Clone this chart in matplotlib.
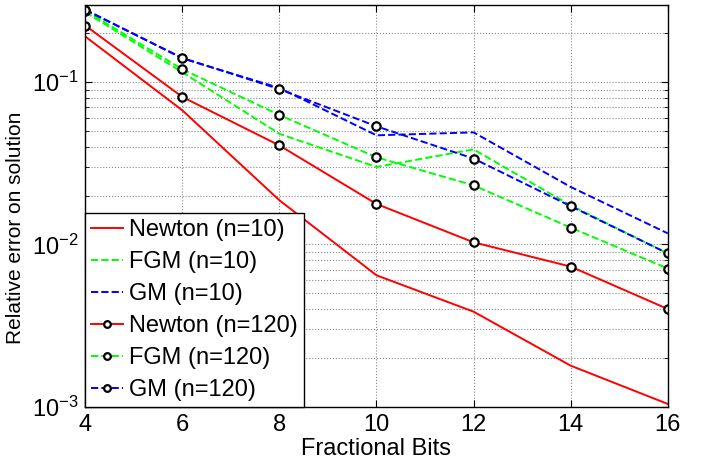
import matplotlib
matplotlib.use("Agg")
import matplotlib.pyplot as plt
from matplotlib.ticker import LogLocator, NullFormatter

plt.rcParams['font.family'] = ['Liberation Sans', 'DejaVu Sans']
plt.rcParams['mathtext.fontset'] = 'custom'
plt.rcParams['mathtext.rm'] = 'Liberation Sans'

bits = [4, 6, 8, 10, 12, 14, 16]
newton_10 = [0.191, 0.067, 0.0187, 0.00645, 0.00385, 0.00179, 0.00104]
fgm_10 = [0.27, 0.115, 0.048, 0.030, 0.0385, 0.0174, 0.0088]
gm_10 = [0.28, 0.14, 0.092, 0.047, 0.049, 0.0226, 0.0117]
newton_120 = [0.223, 0.081, 0.0407, 0.01775, 0.0103, 0.0073, 0.0040]
fgm_120 = [0.276, 0.120, 0.0627, 0.0344, 0.0231, 0.0127, 0.0071]
gm_120 = [0.278, 0.141, 0.0905, 0.0534, 0.0338, 0.0172, 0.0088]

fig = plt.figure(figsize=(7.03, 4.59), dpi=100)
ax = fig.add_axes([0.1213, 0.114, 0.8285, 0.8758])

red, green, blue = '#ff0000', '#00ff00', '#0000ff'
lw = 1.4
ax.plot(bits, newton_10, '-', color=red, lw=lw, label='Newton (n=10)')
ax.plot(bits, fgm_10, '--', color=green, lw=lw, label='FGM (n=10)')
ax.plot(bits, gm_10, '--', color=blue, lw=lw, label='GM (n=10)')
mk = dict(marker='o', ms=6, mfc='white', mec='black', mew=1.6)
ax.plot(bits, newton_120, '-', color=red, lw=lw, label='Newton (n=120)', **mk)
ax.plot(bits, fgm_120, '--', color=green, lw=lw, label='FGM (n=120)', **mk)
ax.plot(bits, gm_120, '--', color=blue, lw=lw, label='GM (n=120)', **mk)

ax.set_yscale('log')
ax.set_xlim(4, 16)
ax.set_ylim(1e-3, 0.3)
ax.set_xticks([4, 6, 8, 10, 12, 14, 16])
ax.yaxis.set_major_locator(LogLocator(base=10, numticks=10))
ax.yaxis.set_minor_locator(LogLocator(base=10, subs=range(2, 10), numticks=20))
ax.yaxis.set_minor_formatter(NullFormatter())
ax.grid(True, which='major', linestyle=':', color='#888888', lw=0.8)
ax.grid(True, which='minor', axis='y', linestyle=':', color='#888888', lw=0.8)
ax.tick_params(which='both', direction='in', top=True, right=True, labelsize=17, pad=5)
ax.tick_params(which='major', length=5)
ax.tick_params(which='minor', length=3)
for s in ax.spines.values():
    s.set_linewidth(1.0)

ax.set_xlabel('Fractional Bits', fontsize=17)
ax.xaxis.set_label_coords(0.5, -0.078)
ax.set_ylabel('Relative error on solution', fontsize=15)
ax.yaxis.set_label_coords(-0.103, 0.445)

leg = ax.legend(loc='lower left', fontsize=17, frameon=True, fancybox=False,
                edgecolor='black', framealpha=1, borderaxespad=0,
                handlelength=1.35, handletextpad=0.25, labelspacing=0.42,
                borderpad=0.25, markerscale=0.8)
leg.get_frame().set_linewidth(1.0)

fig.savefig('out.png', dpi=100)
